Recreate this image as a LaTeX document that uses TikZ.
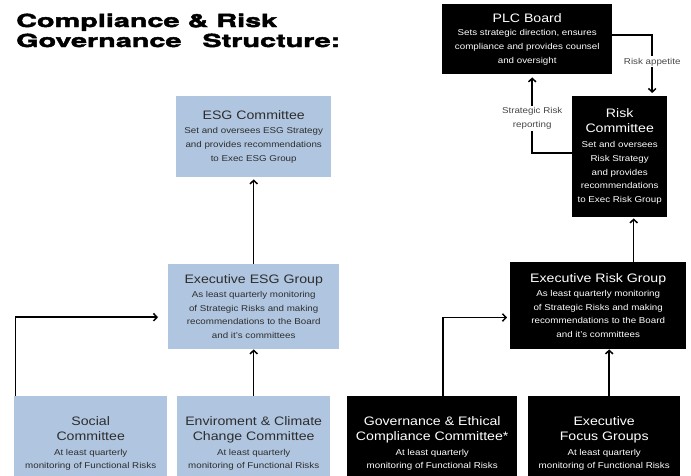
\documentclass[tikz,border=0pt]{standalone}
\usepackage{fontspec}
\setmainfont{Liberation Sans}[FakeStretch=1.15]
\newfontfamily\headfont{texgyreheros-bold.otf}[FakeStretch=1.6,FakeBold=2.4]
\usetikzlibrary{arrows.meta}

\definecolor{esgblue}{RGB}{176,198,224}
\definecolor{esgtext}{RGB}{45,45,45}
\definecolor{labelgray}{RGB}{70,70,70}

\newcommand\smallfnt{\fontsize{8.5}{13.8}\selectfont}
\newcommand\ttl{\fontsize{12.3}{13.8}\selectfont}

\tikzset{
	basebox/.style = {anchor=north west, inner sep=0pt, align=center, font=\smallfnt},
	esgbox/.style  = {basebox, fill=esgblue, text=esgtext},
	riskbox/.style = {basebox, fill=black, text=white},
	arr/.style     = {line width=1.5pt, -{Straight Barb[length=3.5pt,width=7.5pt]}},
	flowlabel/.style = {fill=white, text=labelgray, font=\smallfnt, align=center, inner sep=1.5pt}
}

\begin{document}
\begin{tikzpicture}[x=1pt,y=-1pt]
	\useasboundingbox (0,0) rectangle (691,475);
	\clip (0,0) rectangle (691,475);
	% heading
	\node[anchor=base west, inner sep=0pt, font=\headfont\fontsize{18}{20}\selectfont] (title1) at (16,27) {Compliance \& Risk};
	\node[anchor=base west, inner sep=0pt, font=\headfont\fontsize{18}{20}\selectfont] (title2) at (16,47) {Governance\hspace{21pt}Structure:};
	% ESG side
	\node[esgbox, minimum width=155pt, minimum height=81pt] (esgc) at (176,96)
		{{\ttl ESG Committee}\\[1pt] Set and oversees ESG Strategy\\ and provides recommendations\\ to Exec ESG Group};
	\node[esgbox, minimum width=171pt, minimum height=85pt] (execesg) at (168,264)
		{{\ttl Executive ESG Group}\\ As least quarterly monitoring\\ of Strategic Risks and making\\ recommendations to the Board\\ and it's committees};
	\node[esgbox, minimum width=153pt, minimum height=95pt] (social) at (14,396)
		{{\ttl Social}\\[1pt] {\ttl Committee}\\[1pt] At least quarterly\\ monitoring of Functional Risks};
	\node[esgbox, minimum width=153pt, minimum height=95pt] (env) at (177,396)
		{{\ttl Enviroment \& Climate}\\[1pt] {\ttl Change Committee}\\[1pt] At least quarterly\\ monitoring of Functional Risks};
	% risk side
	\node[riskbox, minimum width=170pt, minimum height=70pt] (plc) at (442,4)
		{{\ttl PLC Board}\\ Sets strategic direction, ensures\\ compliance and provides counsel\\ and oversight};
	\node[riskbox, minimum width=95pt, minimum height=121pt] (riskc) at (572,96)
		{{\ttl Risk}\\[1pt] {\ttl Committee}\\[1pt] Set and oversees\\ Risk Strategy\\ and provides\\ recommendations\\ to Exec Risk Group};
	\node[riskbox, minimum width=176pt, minimum height=87pt] (execrisk) at (510,262)
		{{\ttl Executive Risk Group}\\ As least quarterly monitoring\\ of Strategic Risks and making\\ recommendations to the Board\\ and it's committees};
	\node[riskbox, minimum width=170pt, minimum height=95pt] (gov) at (347,396)
		{{\ttl Governance \& Ethical}\\[1pt] {\ttl Compliance Committee*}\\[1pt] At least quarterly\\ monitoring of Functional Risks};
	\node[riskbox, minimum width=152pt, minimum height=95pt] (focus) at (528,396)
		{{\ttl Executive}\\[1pt] {\ttl Focus Groups}\\[1pt] At least quarterly\\ monitoring of Functional Risks};
	% connectors
	\draw[arr] ([xshift=1.5pt]social.north west) |- ([xshift=-10pt,yshift=-10.5pt]execesg.west);
	\draw[arr] (env) -- (execesg);
	\draw[arr, shorten >=2pt] (execesg) -- (esgc);
	\draw[arr] ([xshift=11pt]gov.north) |- ([xshift=-3pt,yshift=-11.8pt]execrisk.west);
	\draw[arr] ([xshift=5pt]focus.north) -- ([xshift=5pt]focus.north |- execrisk.south);
	\draw[arr, shorten >=1pt] ([xshift=14pt]riskc.south |- execrisk.north) -- ([xshift=14pt]riskc.south);
	\draw[arr, shorten >=3pt] ([yshift=4pt]plc.east) -| node[flowlabel, pos=0.72] (appetite) {Risk appetite} ([xshift=32.5pt]riskc.north);
	\draw[arr, shorten >=3pt] ([yshift=3.5pt]riskc.west) -| node[flowlabel, pos=0.72] (reporting) {Strategic Risk\\ reporting} ([xshift=5pt]plc.south);
\end{tikzpicture}
\end{document}
